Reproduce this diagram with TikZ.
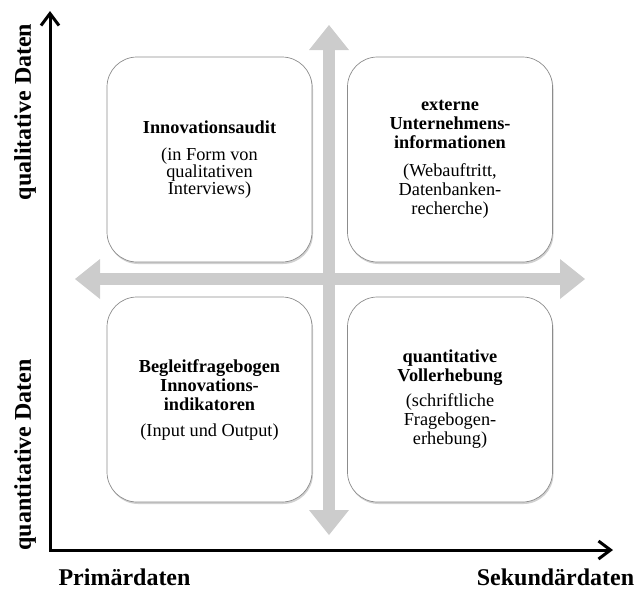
\documentclass[tikz,border=0pt]{standalone}
\usepackage{fontspec}
\setmainfont{Liberation Serif}
\usetikzlibrary{arrows.meta,shadows}
\begin{document}
\begin{tikzpicture}[x=1pt,y=-1pt,
  box/.style={draw=black!45, line width=0.7pt, fill=white, rounded corners=30pt,
    minimum width=205pt, minimum height=205pt, inner sep=0pt, align=center,
    font=\fontsize{18.3}{19}\selectfont,
    drop shadow={shadow xshift=1pt, shadow yshift=-2pt, opacity=0.3, fill=black!60}},
  axlabel/.style={font=\bfseries\fontsize{24}{26}\selectfont, inner sep=0pt},
  grayarrow/.style={draw=black!20, line width=12pt,
    {Triangle[length=25pt,width=40pt,line width=0pt]}-{Triangle[length=25pt,width=40pt,line width=0pt]}},
  axis/.style={draw=black, line width=3pt, line join=miter,
    {Straight Barb[length=12pt,width=18pt]}-{Straight Barb[length=12pt,width=18pt]}}
]
\useasboundingbox (0,0) rectangle (635,590);

% gray cross
\coordinate (vt) at (329,25);
\coordinate (vb) at (329,535);
\coordinate (hl) at (75,279);
\coordinate (hr) at (585,279);
\draw[grayarrow] (vt) -- (vb);
\draw[grayarrow] (hl) -- (hr);

% boxes
\node[box, font=\fontsize{18.3}{17}\selectfont] (tl) at (209.5,159.5)
  {\textbf{Innovationsaudit}\\[10pt](in Form von\\qualitativen\\Interviews)};
\node[box] (tr) at (450,159.5)
  {\textbf{externe}\\\textbf{Unternehmens-}\\\textbf{informationen}\\[9pt] (Webauftritt,\\Datenbanken-\\recherche)};
\node[box] (bl) at (209.5,399.5)
  {\textbf{Begleitfragebogen}\\\textbf{Innovations-}\\\textbf{indikatoren}\\[7pt](Input und Output)};
\node[box] (br) at (450,399.5)
  {\textbf{quantitative}\\\textbf{Vollerhebung}\\[6pt](schriftliche\\Fragebogen-\\erhebung)};

% axes
\coordinate (ytop) at (50,11);
\coordinate (orig) at (50,550);
\coordinate (xend) at (613,550);
\draw[axis] (ytop) -- (orig) -- (xend);

% axis labels
\node[axlabel, rotate=90] (ql) at (25,112) {qualitative Daten};
\node[axlabel, rotate=90] (qn) at (25,455) {quantitative Daten};
\node[axlabel, anchor=base] (pd) at (124.5,585) {Primärdaten};
\node[axlabel, anchor=base] (sd) at (555.5,585) {Sekundärdaten};
\end{tikzpicture}
\end{document}
